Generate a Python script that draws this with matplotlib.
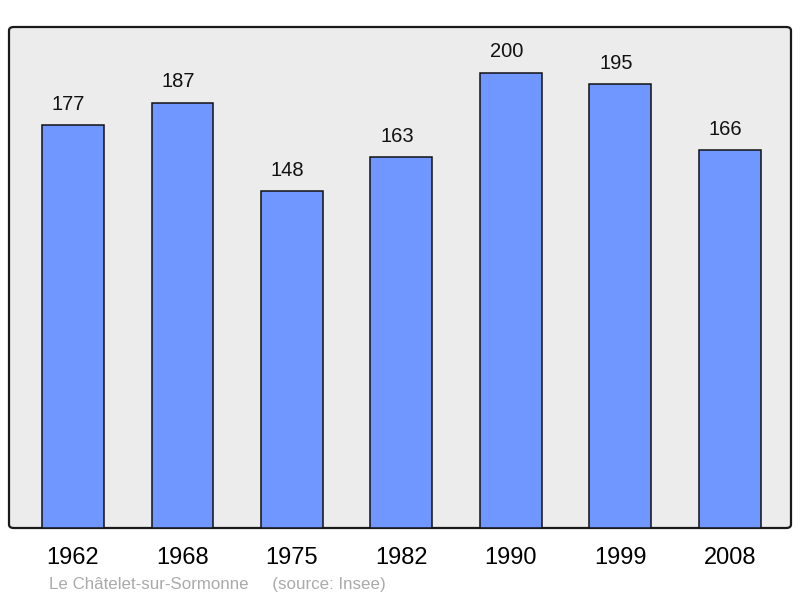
import numpy as np
import matplotlib
matplotlib.use('Agg')
import matplotlib.pyplot as plt
from matplotlib.patches import FancyBboxPatch

plt.rcParams['font.family'] = ['Liberation Sans', 'DejaVu Sans']

# data
years = ['1962', '1968', '1975', '1982', '1990', '1999', '2008']
population = [177, 187, 148, 163, 200, 195, 166]
town = 'Le Châtelet-sur-Sormonne'
source = '(source: Insee)'

fig = plt.figure(figsize=(8, 5.98), dpi=100)
ax = fig.add_axes([9/800, 70/598, 782/800, 501/598])
ax.set_facecolor('none')
for s in ax.spines.values():
    s.set_visible(False)

# rounded grey plot area, drawn behind the axes
bg = FancyBboxPatch((9/800, 70/598), 782/800, 501/598,
                    boxstyle='round,pad=0,rounding_size=0.006',
                    transform=fig.transFigure, facecolor='#ececec',
                    edgecolor='#1a1a1a', linewidth=1.6, zorder=-1)
fig.patches.append(bg)

x = np.arange(len(years))
ax.bar(x, population, width=0.566, color='#7096ff', edgecolor='#111111',
       linewidth=1.1, zorder=2)

# value labels sit a little left of the bar centre, like the original
for xi, v in zip(x, population):
    ax.annotate(str(v), (xi, v), xytext=(-3.2, 15.2), textcoords='offset points',
                ha='center', va='center', fontsize=14.5, color='#111111')

ax.set_xlim(-0.585, 6.56)
ax.set_ylim(0, 220.2)
ax.set_xticks(x)
ax.set_xticklabels(years, fontsize=17)
ax.tick_params(axis='x', length=0, pad=14)
ax.set_yticks([])

fig.text(49/800, 1 - 584/598, town + '     ' + source, fontsize=12.2,
         color='#aaaaaa', ha='left', va='center')

fig.savefig('out.png', dpi=100)
